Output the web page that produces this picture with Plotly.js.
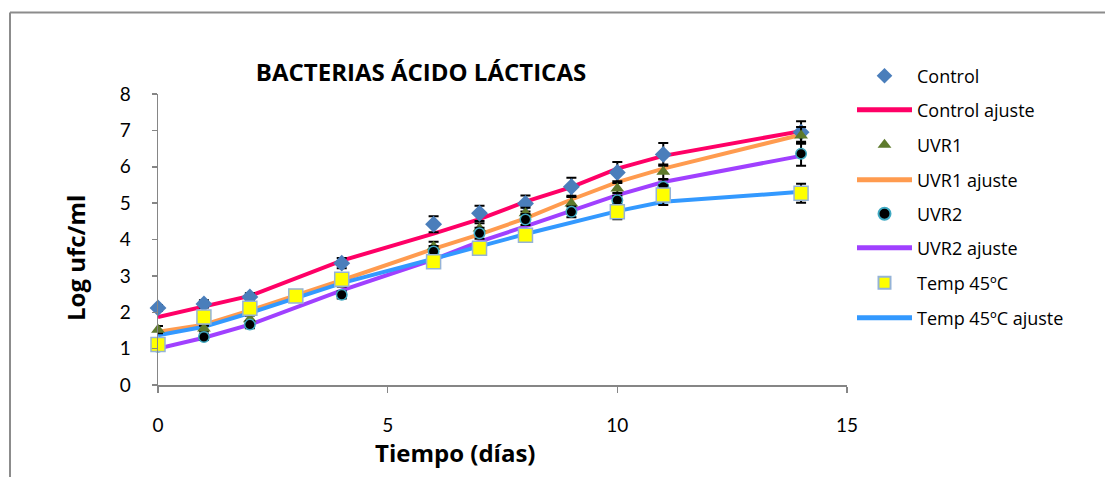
<!DOCTYPE html>
<html>
<head>
<meta charset="utf-8">
<script src="https://cdn.plot.ly/plotly-3.0.1.min.js"></script>
<style>html,body{margin:0;padding:0;background:#fff;}#chart{width:1105px;height:477px;}</style>
</head>
<body>
<div id="chart"></div>
<script>
// ---- data ----
const days = [0, 1, 2, 4, 6, 7, 8, 9, 10, 11, 14];
const tempDays = [0, 1, 2, 3, 4, 6, 7, 8, 10, 11, 14];

const control = [2.12, 2.23, 2.42, 3.35, 4.42, 4.72, 4.99, 5.45, 5.84, 6.34, 6.95];
const controlErr = [0.08, 0.1, 0.1, 0.14, 0.22, 0.21, 0.22, 0.25, 0.29, 0.31, 0.3];
const controlFit = [1.87, 2.16, 2.45, 3.42, 4.16, 4.56, 5.04, 5.44, 5.95, 6.3, 6.98];

const uvr1 = [1.52, 1.55, 1.81, 2.83, 3.8, 4.3, 4.72, 4.99, 5.4, 5.86, 6.86];
const uvr1Err = [0.1, 0.08, 0.1, 0.12, 0.14, 0.15, 0.15, 0.18, 0.2, 0.2, 0.23];
const uvr1Fit = [1.46, 1.66, 2.05, 2.88, 3.74, 4.14, 4.58, 5.1, 5.58, 5.95, 6.88];

const uvr2 = [1.05, 1.32, 1.66, 2.48, 3.67, 4.17, 4.55, 4.76, 5.08, 5.45, 6.36];
const uvr2Err = [0.08, 0.08, 0.1, 0.1, 0.15, 0.15, 0.15, 0.15, 0.2, 0.2, 0.33];
const uvr2Fit = [1.0, 1.3, 1.66, 2.6, 3.45, 3.94, 4.36, 4.8, 5.22, 5.58, 6.3];

const temp = [1.11, 1.87, 2.11, 2.45, 2.91, 3.39, 3.76, 4.12, 4.76, 5.22, 5.27];
const tempErr = [0.08, 0.1, 0.1, 0.08, 0.1, 0.1, 0.1, 0.1, 0.2, 0.27, 0.26];
const tempFit = [1.37, 1.6, 1.98, 2.4, 2.8, 3.47, 3.8, 4.15, 4.78, 5.04, 5.31];

const names = ["Control", "Control ajuste", "UVR1", "UVR1 ajuste", "UVR2", "UVR2 ajuste", "Temp 45ºC", "Temp 45ºC ajuste"];

// ---- styling ----
const FONT = "'Open Sans', Lato, sans-serif";
const TICKFONT = "Lato, 'Open Sans', sans-serif";
const W = 1105, H = 477;
const L = 158, R = 258, T = 94, B = 92;
const plotW = W - L - R, plotH = H - T - B;
const px2x = p => (p - L) / plotW;
const py2y = p => (H - B - p) / plotH;

const errStyle = arr => ({type: 'data', array: arr, visible: true, color: '#000', thickness: 2, width: 5});

const legendRows = [76, 110, 145, 180, 214, 248, 283, 318];
const legendKey = i => i === 0 ? 'legend' : 'legend' + (i + 1);

const traces = [
  {x: days, y: controlFit, mode: 'lines', name: names[1], line: {color: '#FF0066', width: 4}, legend: legendKey(1)},
  {x: days, y: uvr1Fit, mode: 'lines', name: names[3], line: {color: '#FF9B4F', width: 4}, legend: legendKey(3)},
  {x: days, y: uvr2Fit, mode: 'lines', name: names[5], line: {color: '#A040FF', width: 4}, legend: legendKey(5)},
  {x: tempDays, y: tempFit, mode: 'lines', name: names[7], line: {color: '#3399FF', width: 4}, legend: legendKey(7)},
  {x: days, y: control, mode: 'markers', name: names[0], error_y: errStyle(controlErr), cliponaxis: false,
   marker: {symbol: 'diamond', size: 13, color: '#4A7EBB', line: {width: 0}}, legend: legendKey(0)},
  {x: days, y: uvr1, mode: 'markers', name: names[2], error_y: errStyle(uvr1Err), cliponaxis: false,
   marker: {symbol: 'triangle-up', size: 12, color: '#5E7A2C', line: {width: 0}}, legend: legendKey(2)},
  {x: days, y: uvr2, mode: 'markers', name: names[4], error_y: errStyle(uvr2Err), cliponaxis: false,
   marker: {symbol: 'circle', size: 10.5, color: '#000000', line: {width: 1.5, color: '#3FA9C2'}}, legend: legendKey(4)},
  {x: tempDays, y: temp, mode: 'markers', name: names[6], error_y: errStyle(tempErr), cliponaxis: false,
   marker: {symbol: 'square', size: 14, color: '#FFFF00', line: {width: 1.5, color: '#95B3D7'}}, legend: legendKey(6)}
];

const layout = {
  width: W, height: H,
  margin: {l: L, r: R, t: T, b: B, pad: 0},
  paper_bgcolor: '#fff', plot_bgcolor: '#fff',
  font: {family: FONT, color: '#000', size: 19},
  title: {text: 'BACTERIAS ÁCIDO LÁCTICAS', font: {family: FONT, size: 24, weight: 'bold', color: '#000'},
          xref: 'paper', x: px2x(421), xanchor: 'center', yref: 'container', y: 1 - 73 / H, yanchor: 'middle'},
  xaxis: {range: [0, 15], dtick: 5, tick0: 0, showgrid: false, zeroline: false, showline: true,
          linecolor: '#868686', linewidth: 1.5, ticks: 'outside', ticklen: 6, tickcolor: '#868686', tickwidth: 1.5,
          ticklabelstandoff: 17, tickfont: {size: 19, family: TICKFONT}},
  yaxis: {range: [0, 8], dtick: 1, tick0: 0, showgrid: false, zeroline: false, showline: true,
          linecolor: '#868686', linewidth: 1.5, ticks: 'outside', ticklen: 5, tickcolor: '#868686', tickwidth: 1.5,
          ticklabelstandoff: 17, tickfont: {size: 19, family: TICKFONT}},
  annotations: [
    {text: '<b>Log ufc/ml</b>', xref: 'paper', yref: 'paper', x: px2x(75), y: py2y(258), textangle: -90,
     showarrow: false, xanchor: 'center', yanchor: 'middle', font: {size: 24, family: FONT}},
    {text: '<b>Tiempo (días)</b>', xref: 'paper', yref: 'paper', x: px2x(455), y: py2y(452),
     showarrow: false, xanchor: 'center', yanchor: 'middle', font: {size: 24, family: FONT}}
  ],
  shapes: [
    {type: 'line', xref: 'paper', yref: 'paper', x0: px2x(10), x1: px2x(1110), y0: py2y(12.5), y1: py2y(12.5),
     line: {color: '#8C8C8C', width: 2}},
    {type: 'line', xref: 'paper', yref: 'paper', x0: px2x(10), x1: px2x(10), y0: py2y(12.5), y1: py2y(480),
     line: {color: '#8C8C8C', width: 2}}
  ],
  showlegend: true
};

legendRows.forEach((row, i) => {
  layout[legendKey(i)] = {
    x: px2x(852), xanchor: 'left', xref: 'paper',
    y: py2y(row), yanchor: 'middle', yref: 'paper',
    bgcolor: 'rgba(0,0,0,0)', borderwidth: 0,
    font: {size: 18, family: FONT, color: '#000'},
    itemwidth: 55, itemsizing: 'constant'
  };
});

Plotly.newPlot('chart', traces, layout, {displayModeBar: false, staticPlot: true});
</script>
</body>
</html>
